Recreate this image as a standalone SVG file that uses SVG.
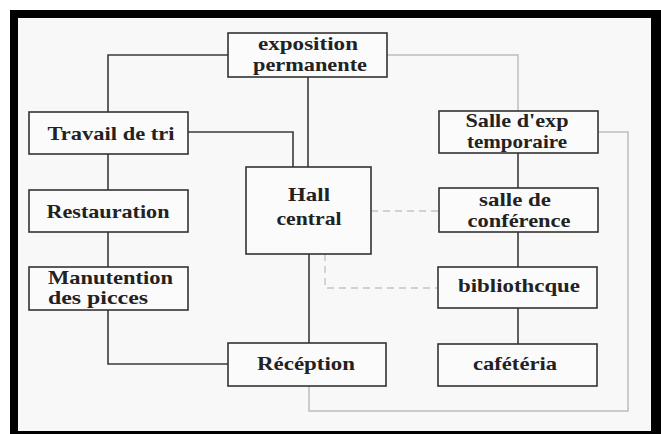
<svg xmlns="http://www.w3.org/2000/svg" width="661" height="434" viewBox="0 0 661 434">
<style>
.box{fill:#fbfbfb;stroke:#333;stroke-width:1.6}
.t{font-family:"Liberation Serif","Times New Roman",serif;font-weight:bold;font-size:19px;fill:#222;text-anchor:middle}
.l{text-anchor:start}
.c{fill:none;stroke:#3a3a3a;stroke-width:1.6}
.g{fill:none;stroke:#bdbdbd;stroke-width:1.5}
.d{fill:none;stroke:#c4c4c4;stroke-width:1.4;stroke-dasharray:7 5}
</style>
<rect x="0" y="0" width="661" height="434" fill="#ffffff"/>
<path d="M10 10H661V434H10Z M18 18V431H651V18Z" fill="#000" fill-rule="evenodd"/>
<rect x="18" y="18" width="633" height="413" fill="#f8f8f8"/>
<g id="connectors">
<path class="c" d="M228 55H108V112"/>
<path class="c" d="M308 77V167"/>
<path class="c" d="M188 132H293V167"/>
<path class="c" d="M108 154V190"/>
<path class="c" d="M108 232V267"/>
<path class="c" d="M108 310V364H228"/>
<path class="c" d="M309 254V343"/>
<path class="c" d="M518 153V188"/>
<path class="c" d="M518 232V267"/>
<path class="c" d="M518 308V344"/>
<path class="g" d="M387 55H518V111"/>
<path class="g" d="M598 132H628V411H309V386"/>
<path class="d" d="M371 211H439"/>
<path class="d" d="M325 254V288H438"/>
</g>
<g id="expo"><rect class="box" x="228" y="33" width="159" height="44"/><text class="t" x="308" y="50" textLength="100" lengthAdjust="spacingAndGlyphs">exposition</text><text class="t" x="310" y="71" textLength="114" lengthAdjust="spacingAndGlyphs">permanente</text></g>
<g id="travail"><rect class="box" x="29" y="112" width="159" height="42"/><text class="t" x="111" y="140" textLength="127" lengthAdjust="spacingAndGlyphs">Travail de tri</text></g>
<g id="restauration"><rect class="box" x="29" y="190" width="159" height="42"/><text class="t" x="108" y="218" textLength="123" lengthAdjust="spacingAndGlyphs">Restauration</text></g>
<g id="manutention"><rect class="box" x="29" y="267" width="159" height="43"/><text class="t l" x="48" y="284" textLength="125" lengthAdjust="spacingAndGlyphs">Manutention</text><text class="t l" x="48" y="304" textLength="100" lengthAdjust="spacingAndGlyphs">des picces</text></g>
<g id="hall"><rect class="box" x="246" y="167" width="125" height="87"/><text class="t" x="309" y="201" textLength="42" lengthAdjust="spacingAndGlyphs">Hall</text><text class="t" x="309" y="225" textLength="65" lengthAdjust="spacingAndGlyphs">central</text></g>
<g id="reception"><rect class="box" x="228" y="343" width="158" height="43"/><text class="t" x="306" y="370" textLength="98" lengthAdjust="spacingAndGlyphs">Récéption</text></g>
<g id="salle-exp"><rect class="box" x="439" y="111" width="159" height="42"/><text class="t" x="517" y="127" textLength="103" lengthAdjust="spacingAndGlyphs">Salle d'exp</text><text class="t" x="517" y="148" textLength="100" lengthAdjust="spacingAndGlyphs">temporaire</text></g>
<g id="conference"><rect class="box" x="439" y="188" width="159" height="44"/><text class="t" x="515" y="206" textLength="72" lengthAdjust="spacingAndGlyphs">salle de</text><text class="t" x="519" y="227" textLength="103" lengthAdjust="spacingAndGlyphs">conférence</text></g>
<g id="bibliotheque"><rect class="box" x="438" y="267" width="159" height="41"/><text class="t" x="519" y="292" textLength="122" lengthAdjust="spacingAndGlyphs">bibliothcque</text></g>
<g id="cafeteria"><rect class="box" x="438" y="344" width="159" height="42"/><text class="t" x="515" y="370" textLength="84" lengthAdjust="spacingAndGlyphs">cafétéria</text></g>
</svg>
